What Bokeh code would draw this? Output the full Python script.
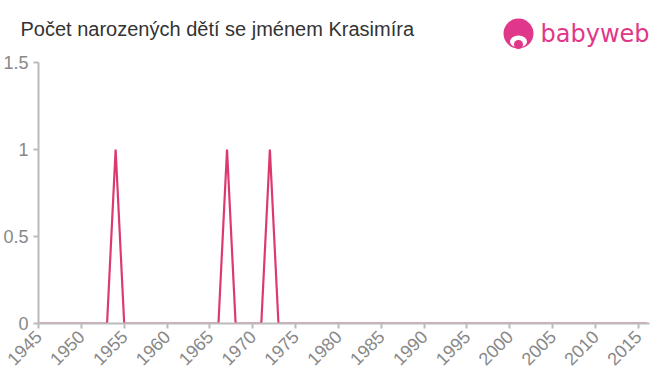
from bokeh.plotting import figure
from bokeh.models import Range1d, FixedTicker
from bokeh.layouts import column
from bokeh.core.properties import value
from bokeh.embed import file_html
from bokeh.resources import INLINE
import math

years = list(range(1945, 2017))
peak_years = [1954, 1967, 1972]
counts = [1 if y in peak_years else 0 for y in years]
x_ticks = list(range(1945, 2016, 5))
y_ticks = [0, 0.5, 1, 1.5]
title = "Počet narozených dětí se jménem Krasimíra"
brand = "babyweb"

PINK = "#e0378a"

# header strip (title + logo), pixel-like coordinates
head = figure(width=660, height=50, output_backend="svg", toolbar_location=None,
              x_range=Range1d(0, 660), y_range=Range1d(50, 0),
              min_border=0, x_axis_type=None, y_axis_type=None, title=None)
head.frame_align = False
head.grid.visible = False
head.outline_line_color = None
head.text(x=[20], y=[28], text=[title], text_font=value("Liberation Sans"),
          text_font_size="20px", text_color="#333333", text_baseline="alphabetic")
head.circle(x=[518], y=[33], radius=15, fill_color=PINK, line_color=None)
head.ellipse(x=[518], y=[41], width=17, height=12, fill_color="white", line_color=None)
head.circle(x=[518], y=[44], radius=4.5, fill_color=PINK, line_color=None)
head.text(x=[540], y=[33], text=[brand], text_font=value("DejaVu Sans"),
          text_font_size="24px", text_color=PINK, text_baseline="alphabetic")

p = figure(width=660, height=325, output_backend="svg", toolbar_location=None,
           x_range=Range1d(1945, 2016.3), y_range=Range1d(0, 1.5),
           min_border_left=38, min_border_right=11, min_border_top=12, min_border_bottom=52)
p.frame_align = False
p.line(years, counts, line_color="#dc3a6d", line_width=2.2)

for ax in (p.xaxis, p.yaxis):
    ax.axis_line_color = "#bbbbbb"
    ax.axis_line_width = 2
    ax.major_tick_line_color = "#bbbbbb"
    ax.major_tick_line_width = 2
    ax.minor_tick_line_color = None
    ax.major_label_text_color = "#888888"
    ax.major_label_text_font = "Liberation Sans"
    ax.major_tick_in = 0
    ax.major_tick_out = 5
p.xaxis.ticker = FixedTicker(ticks=x_ticks)
p.yaxis.ticker = FixedTicker(ticks=y_ticks)
p.yaxis.major_label_overrides = {0: "0", 0.5: "0.5", 1: "1", 1.5: "1.5"}
p.xaxis.major_label_orientation = math.pi / 4
p.xaxis.major_label_text_font_size = "18px"
p.yaxis.major_label_text_font_size = "18px"
p.xgrid.visible = False
p.ygrid.visible = False
p.outline_line_color = None

layout = column(head, p, spacing=0)
out = file_html(layout, INLINE)
open("out.html", "w").write(out)
